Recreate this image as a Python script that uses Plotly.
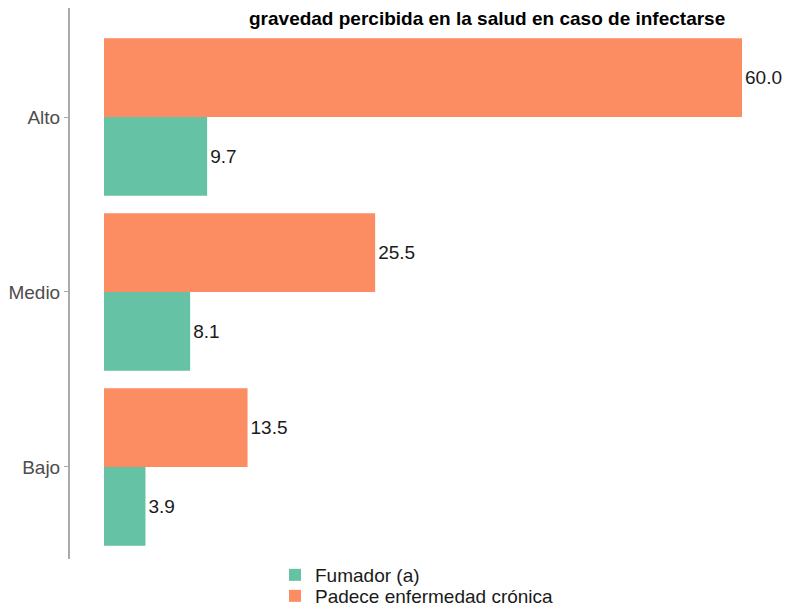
import plotly.graph_objects as go

categories = ["Bajo", "Medio", "Alto"]
fumador = [3.9, 8.1, 9.7]
cronica = [13.5, 25.5, 60.0]
series_names = ["Fumador (a)", "Padece enfermedad crónica"]
title_text = "gravedad percibida en la salud en caso de infectarse"

# The page body has an 8px margin, so the figure is drawn 8px lower/right.
W, H = 776, 599
L, R, T, B = 62, 0, 0, 48
PW, PH = W - L - R, H - T - B
FONT = "Liberation Sans, Arial, sans-serif"

def px_x(x):
    return (x - L) / PW

def px_y(y):
    return 1 - (y - T) / PH

fig = go.Figure()
fig.add_trace(go.Bar(
    y=categories, x=fumador, orientation="h", name=series_names[0],
    marker=dict(color="#66C2A5", line=dict(width=0)),
    text=fumador, texttemplate="%{x:.1f}", textposition="outside",
    textfont=dict(family=FONT, size=19, color="#1a1a1a"),
    cliponaxis=False, legend="legend",
))
fig.add_trace(go.Bar(
    y=categories, x=cronica, orientation="h", name=series_names[1],
    marker=dict(color="#FC8D62", line=dict(width=0)),
    text=cronica, texttemplate="%{x:.1f}", textposition="outside",
    textfont=dict(family=FONT, size=19, color="#1a1a1a"),
    cliponaxis=False, legend="legend2",
))

legend_common = dict(
    orientation="v", xanchor="left", yanchor="middle",
    font=dict(family=FONT, size=19, color="#1a1a1a"),
    bgcolor="rgba(0,0,0,0)", borderwidth=0,
)

fig.update_layout(
    width=W, height=H,
    margin=dict(l=L, r=R, t=T, b=B, pad=0, autoexpand=False),
    paper_bgcolor="white", plot_bgcolor="white",
    barmode="group", bargap=0.1, bargroupgap=0,
    font=dict(family=FONT, size=19, color="#333333"),
    showlegend=True,
    legend=dict(x=px_x(267), y=px_y(567), **legend_common),
    legend2=dict(x=px_x(267), y=px_y(588), **legend_common),
    xaxis=dict(
        range=[-3.197, 63.95], visible=False, showgrid=False, zeroline=False,
    ),
    yaxis=dict(
        type="category", categoryorder="array", categoryarray=categories,
        range=[-0.526, 2.623],
        showline=True, linecolor="#aaaaaa", linewidth=2,
        ticks="outside", ticklen=4, tickcolor="#aaaaaa", tickwidth=1,
        tickfont=dict(family=FONT, size=19, color="#4d4d4d"),
        showgrid=False, zeroline=False,
    ),
)

fig.add_annotation(
    text="<b>" + title_text + "</b>",
    xref="paper", yref="paper", x=px_x(479), y=1,
    xanchor="center", yanchor="middle", yshift=-10, showarrow=False,
    font=dict(family=FONT, size=19, color="#000000"),
)

fig.write_html("out.html")
